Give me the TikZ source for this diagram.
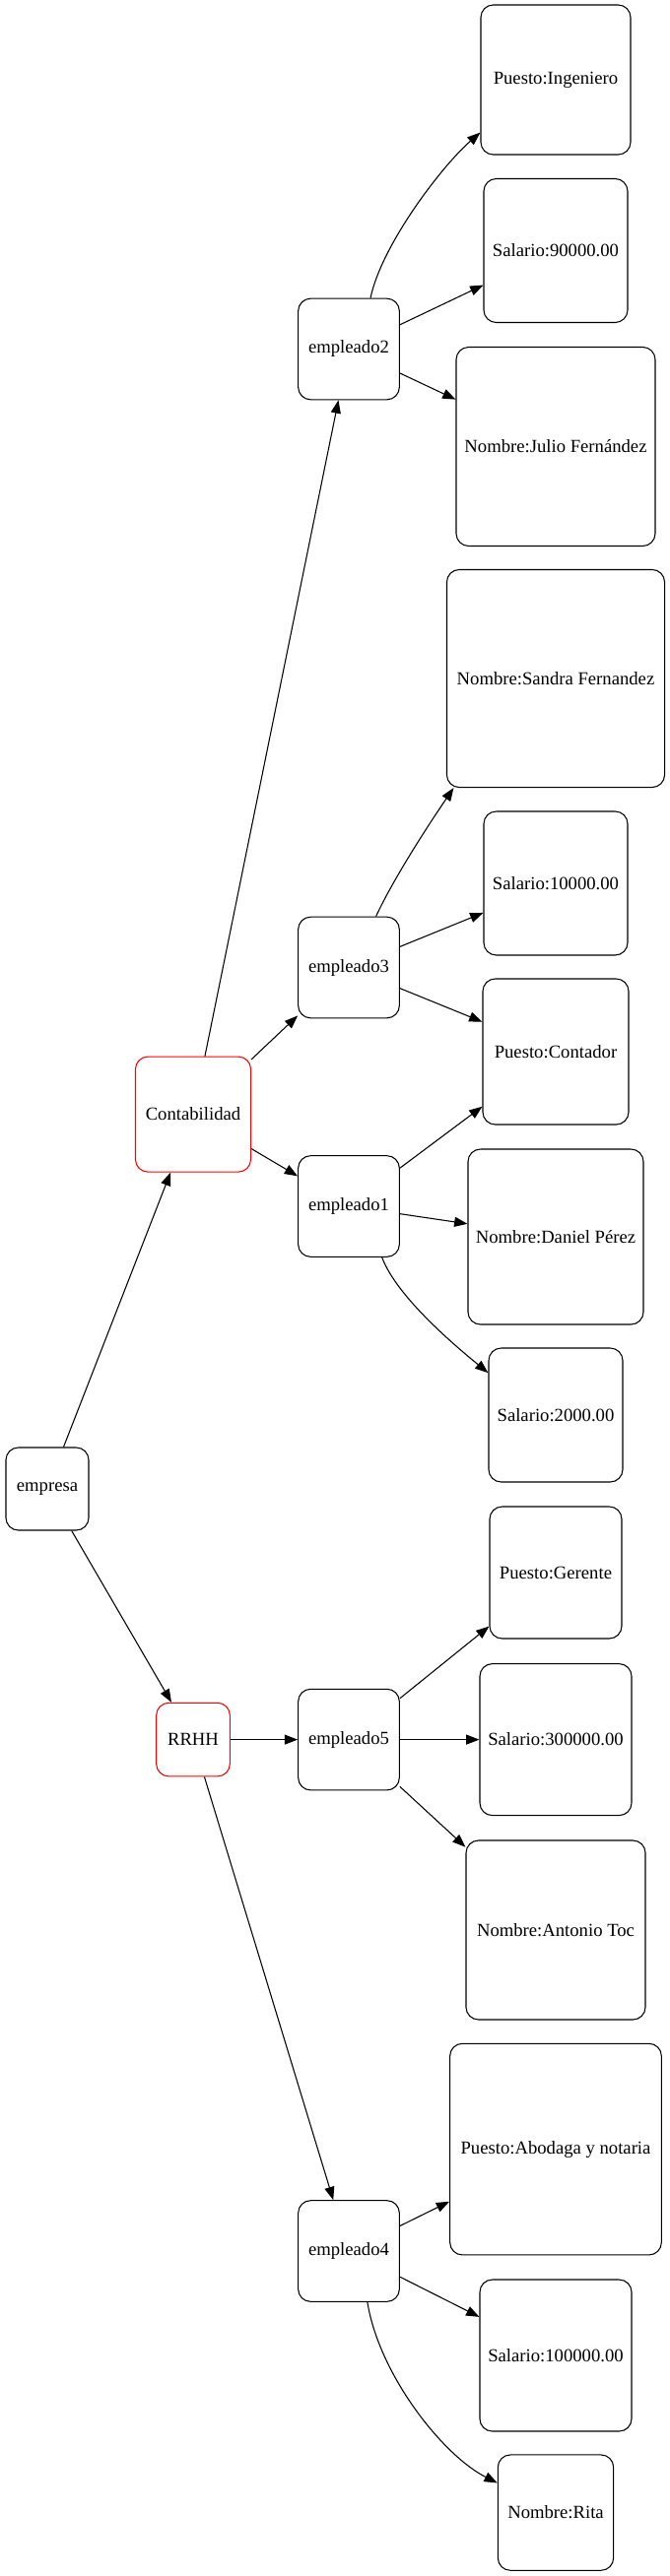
\documentclass[tikz,border=0pt]{standalone}
\usepackage{fontspec}
\setmainfont{Liberation Serif}
\usetikzlibrary{arrows.meta}

\tikzset{
  caja/.style={draw, color={rgb, 255:red, 0; green, 0; blue, 0 }, rounded corners=9.5pt, line width=0.8pt, inner sep=0pt, minimum size=#1, font=\fontsize{14}{17}\selectfont},
  depto/.style={caja=#1, draw={rgb, 255:red, 255; green, 0; blue, 0 }, text={rgb, 255:red, 0; green, 0; blue, 0 }},
  flecha/.style={-{Triangle[length=10pt,width=7.5pt]}, line width=0.8pt},
}

\begin{document}
\begin{tikzpicture}[x=0.75pt,y=0.75pt,yscale=-1,xscale=1]
%set diagram left start at 0, and has height of 2616
\useasboundingbox (0,0) rectangle (680,2616);

%Shape: Rounded Rect [empresa]
\node [caja=63pt] (empresa) at (48,1512) {empresa};
%Shape: Rounded Rect [departamentos]
\node [depto=87.8pt] (conta) at (196,1131.6) {Contabilidad};
\node [depto=56pt] (rrhh) at (196,1766.6) {RRHH};
%Shape: Rounded Rect [empleados]
\node [caja=77pt] (emp2) at (354,354.5) {empleado2};
\node [caja=77pt] (emp3) at (354,982.5) {empleado3};
\node [caja=77pt] (emp1) at (354,1225) {empleado1};
\node [caja=77pt] (emp5) at (354,1766.6) {empleado5};
\node [caja=77pt] (emp4) at (354,2286) {empleado4};
%Shape: Rounded Rect [datos]
\node [caja=114pt] (pi) at (564,81) {Puesto:Ingeniero};
\node [caja=109.5pt] (s90) at (564,254.5) {Salario:90000.00};
\node [caja=151.5pt] (nj) at (564,453.5) {Nombre:Julio Fernández};
\node [caja=165.8pt] (ns) at (564,689) {Nombre:Sandra Fernandez};
\node [caja=109.5pt] (s10) at (564,897) {Salario:10000.00};
\node [caja=111pt] (pc) at (564,1068) {Puesto:Contador};
\node [caja=133.5pt] (nd) at (564,1256) {Nombre:Daniel Pérez};
\node [caja=102pt] (s2) at (564,1437) {Salario:2000.00};
\node [caja=100.5pt] (pg) at (564,1597) {Puesto:Gerente};
\node [caja=115.5pt] (s300) at (564,1766.6) {Salario:300000.00};
\node [caja=136.5pt] (na) at (564,1960) {Nombre:Antonio Toc};
\node [caja=161pt] (pa) at (564,2182.6) {Puesto:Abodaga y notaria};
\node [caja=115.5pt] (s100) at (564,2392) {Salario:100000.00};
\node [caja=88pt] (nr) at (564,2551.6) {Nombre:Rita};

%Straight Lines
\draw [flecha] (empresa) -- (conta);
\draw [flecha] (empresa) -- (rrhh);
\draw [flecha] (conta) -- (emp2);
\draw [flecha] (conta) -- (emp3);
\draw [flecha] (conta) -- (emp1);
\draw [flecha] (rrhh) -- (emp5);
\draw [flecha] (rrhh) -- (emp4);
\draw [flecha] (emp2) -- (s90);
\draw [flecha] (emp2) -- (nj);
\draw [flecha] (emp3) -- (s10);
\draw [flecha] (emp3) -- (pc);
\draw [flecha] (emp1) -- (pc);
\draw [flecha] (emp1) -- (nd);
\draw [flecha] (emp5) -- (pg);
\draw [flecha] (emp5) -- (s300);
\draw [flecha] (emp5) -- (na);
\draw [flecha] (emp4) -- (pa);
\draw [flecha] (emp4) -- (s100);
%Curve Lines
\draw [flecha] (emp2.67) .. controls (387.6,247.5) and (450,167) .. (pi.215);
\draw [flecha] (emp3.62) .. controls (400,891) and (436,836) .. (ns.227);
\draw [flecha] (emp1.-57) .. controls (403,1318) and (466,1370) .. (s2.148);
\draw [flecha] (emp4.-70) .. controls (385,2412.5) and (450.2,2494) .. (nr.153);

\end{tikzpicture}
\end{document}
